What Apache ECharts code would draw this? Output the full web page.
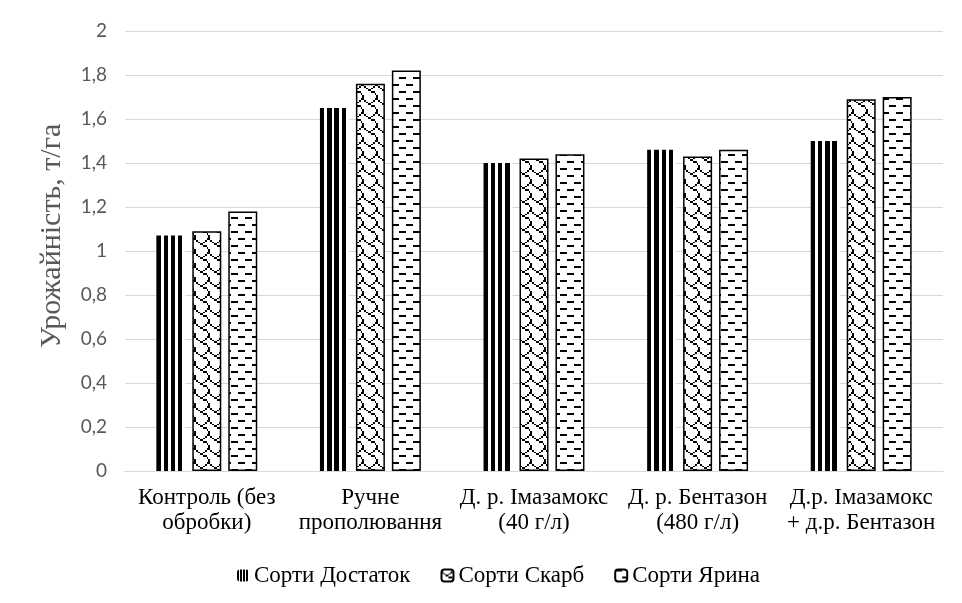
<!DOCTYPE html>
<html><head><meta charset="utf-8">
<script src="https://cdn.jsdelivr.net/npm/echarts@6/dist/echarts.min.js"></script>
<style>html,body{margin:0;padding:0;background:#fff}#c{width:962px;height:603px}</style>
</head><body><div id="c"></div>
<script>
// ---- data ----
const categories = ['Контроль (без\nобробки)', 'Ручне\nпрополювання', 'Д. р. Імазамокс\n(40 г/л)', 'Д. р. Бентазон\n(480 г/л)', 'Д.р. Імазамокс\n+ д.р. Бентазон'];
const seriesNames = ['Сорти Достаток', 'Сорти Скарб', 'Сорти Ярина'];
const dostatok = [1.07, 1.65, 1.40, 1.46, 1.50];
const skarb = [1.09, 1.76, 1.42, 1.43, 1.69];
const yaryna = [1.18, 1.82, 1.44, 1.46, 1.70];
const yMin = 0, yMax = 2, yInterval = 0.2;
const yTitle = 'Урожайність, т/га';

function buildAndDraw() {
  // ---- fill patterns (style only) ----
  function bitmapPattern(rows, scale) {
    const m = i => Math.round(i * scale);
    const size = m(8);
    const c = document.createElement('canvas');
    c.width = size; c.height = size;
    const g = c.getContext('2d');
    g.fillStyle = '#fff'; g.fillRect(0, 0, size, size);
    g.fillStyle = '#000';
    rows.forEach((bits, y) => {
      for (let x = 0; x < 8; x++) if (bits & (0x80 >> x)) g.fillRect(m(x), m(y), m(x + 1) - m(x), m(y + 1) - m(y));
    });
    return { image: c, repeat: 'repeat' };
  }
  function stripes(n, frac) {
    const stops = [];
    for (let i = 0; i < n; i++) {
      const a = i / n, b = (i + frac) / n, e = (i + 1) / n;
      stops.push({ offset: a, color: '#000' }, { offset: b, color: '#000' }, { offset: b, color: '#fff' }, { offset: e, color: '#fff' });
    }
    return new echarts.graphic.LinearGradient(0, 0, 1, 0, stops);
  }
  const shingle = bitmapPattern([0x03, 0x84, 0x48, 0x30, 0x0c, 0x02, 0x01, 0x01], 1.75);
  const dashes = bitmapPattern([0xf0, 0x00, 0x00, 0x00, 0x0f, 0x00, 0x00, 0x00], 1.75);

  const option = {
    animation: false,
    grid: { left: 125, right: 19, top: 31, bottom: 132 },
    legend: {
      bottom: 11, left: 232, itemWidth: 12, itemHeight: 12, itemGap: 30,
      textStyle: { fontFamily: 'Liberation Serif', fontSize: 23, color: '#000' }
    },
    xAxis: {
      type: 'category', data: categories,
      axisLine: { lineStyle: { color: '#d9d9d9', width: 1 } },
      axisTick: { show: false },
      axisLabel: { interval: 0, margin: 14, fontFamily: 'Liberation Serif', fontSize: 23, lineHeight: 25, color: '#000' }
    },
    yAxis: {
      type: 'value', min: yMin, max: yMax, interval: yInterval,
      name: yTitle, nameLocation: 'middle', nameGap: 58,
      nameTextStyle: { fontFamily: 'Liberation Serif', fontSize: 30, color: '#595959', padding: [0, 0, 0, 30] },
      axisLine: { show: false }, axisTick: { show: false },
      splitLine: { lineStyle: { color: '#d9d9d9', width: 1 } },
      axisLabel: { margin: 18, fontFamily: 'Lato', fontSize: 19, color: '#595959',
        formatter: v => String(+v.toFixed(1)).replace('.', ',') }
    },
    series: [
      { name: seriesNames[0], type: 'bar', data: dostatok, barWidth: 29, barGap: '24%',
        itemStyle: { color: stripes(4, 0.6), borderWidth: 0 } },
      { name: seriesNames[1], type: 'bar', data: skarb, barWidth: 29, barGap: '24%',
        itemStyle: { color: shingle, borderColor: '#000', borderWidth: 1.5 } },
      { name: seriesNames[2], type: 'bar', data: yaryna, barWidth: 29, barGap: '24%',
        itemStyle: { color: dashes, borderColor: '#000', borderWidth: 1.5 } }
    ]
  };
  let chart = echarts.getInstanceByDom(document.getElementById('c'));
  if (!chart) chart = echarts.init(document.getElementById('c'));
  chart.clear();
  chart.setOption(option, true);
}
buildAndDraw();
setTimeout(buildAndDraw, 150);
</script></body></html>
